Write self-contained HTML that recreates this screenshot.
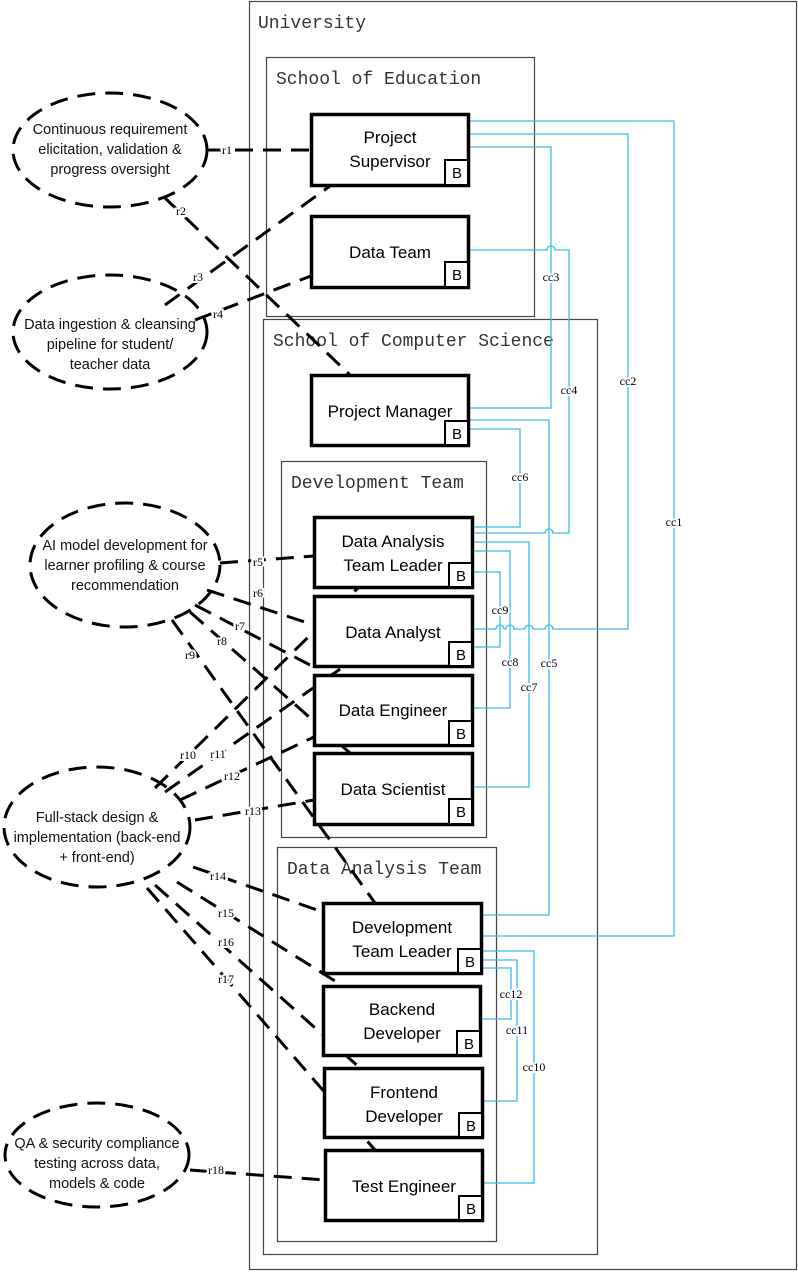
<!DOCTYPE html><html><head><meta charset="utf-8"><style>
html,body{margin:0;padding:0;background:#fff}
svg text{font-family:"Liberation Sans",sans-serif}
.t{font-family:"Liberation Mono",monospace;font-size:18px;fill:#333}
.n{font-size:17px;fill:#000;text-anchor:middle}
.e{font-size:14.5px;fill:#111;text-anchor:middle}
.l{font-family:"Liberation Serif",serif;font-size:12px;fill:#000;text-anchor:middle;dominant-baseline:central;paint-order:stroke;stroke:#fff;stroke-width:4px}
.c{fill:none;stroke:#3cbbea;stroke-width:1.3}
.d{fill:none;stroke:#000;stroke-width:3;stroke-dasharray:18 10}
.b{fill:#fff;stroke:#000;stroke-width:3.5}
.bb{fill:#fff;stroke:#000;stroke-width:2}
.g{fill:none;stroke:#444;stroke-width:1.2}
</style></head><body>
<svg width="798" height="1271" viewBox="0 0 798 1271" xmlns="http://www.w3.org/2000/svg">
<rect x="249.5" y="1.5" width="547" height="1268" class="g"/>
<text x="258" y="28" class="t">University</text>
<rect x="266.5" y="57.5" width="268" height="259" class="g"/>
<text x="276" y="84" class="t">School of Education</text>
<rect x="263.5" y="319.5" width="334" height="935" class="g"/>
<text x="273" y="346" class="t">School of Computer Science</text>
<rect x="281.5" y="461.5" width="205" height="376" class="g"/>
<text x="291" y="488" class="t">Development Team</text>
<rect x="277.5" y="847.5" width="219" height="394" class="g"/>
<text x="287" y="874" class="t">Data Analysis Team</text>

<!-- cyan connectors -->
<g class="c">
<polyline points="469,121 674,121 674,936 482,936"/>
<path d="M469,134 H628 V629 H553 a4,4 0 0 0 -8,0 H533 a4,4 0 0 0 -8,0 H514 a4,4 0 0 0 -8,0 H504 a4,4 0 0 0 -8,0 H473"/>
<polyline points="469,147 551,147 551,408 469,408"/>
<path d="M469,250 H547 a4,4 0 0 1 8,0 H569 V533 H553 a4,4 0 0 0 -8,0 H473"/>
<polyline points="469,420 549,420 549,915 482,915"/>
<polyline points="469,429 520,429 520,527 473,527"/>
<polyline points="473,542 529,542 529,787 473,787"/>
<polyline points="473,551 510,551 510,708 473,708"/>
<polyline points="473,572 500,572 500,647 473,647"/>
<polyline points="482,951 534,951 534,1183 483,1183"/>
<polyline points="482,960 517,960 517,1101 483,1101"/>
<polyline points="482,968 511,968 511,1019 481,1019"/>
</g>

<!-- ellipses -->
<ellipse cx="110" cy="150" rx="97" ry="57" class="d" fill="#fff"/>
<ellipse cx="110" cy="332" rx="97" ry="57" class="d" fill="#fff"/>
<ellipse cx="125" cy="565" rx="95" ry="62" class="d" fill="#fff"/>
<ellipse cx="97" cy="827" rx="93" ry="60" class="d" fill="#fff"/>
<ellipse cx="97" cy="1155" rx="92" ry="52" class="d" fill="#fff"/>
<text class="e"><tspan x="110" y="134">Continuous requirement</tspan><tspan x="110" y="154">elicitation, validation &amp;</tspan><tspan x="110" y="174">progress oversight</tspan></text>
<text class="e"><tspan x="110" y="329">Data ingestion &amp; cleansing</tspan><tspan x="110" y="349">pipeline for student/</tspan><tspan x="110" y="369">teacher data</tspan></text>
<text class="e"><tspan x="125" y="550">AI model development for</tspan><tspan x="125" y="570">learner profiling &amp; course</tspan><tspan x="125" y="590">recommendation</tspan></text>
<text class="e"><tspan x="97" y="822">Full-stack design &amp;</tspan><tspan x="97" y="842">implementation (back-end</tspan><tspan x="97" y="862">+ front-end)</tspan></text>
<text class="e"><tspan x="97" y="1148">QA &amp; security compliance</tspan><tspan x="97" y="1168">testing across data,</tspan><tspan x="97" y="1188">models &amp; code</tspan></text>

<!-- dashed relations -->
<g class="d">
<line x1="207" y1="150" x2="311" y2="150"/>
<line x1="165" y1="198" x2="350" y2="375"/>
<line x1="165" y1="305" x2="330" y2="186"/>
<line x1="195" y1="320" x2="311" y2="276"/>
<line x1="220" y1="563" x2="314" y2="556"/>
<line x1="207" y1="590" x2="314" y2="625"/>
<line x1="195" y1="605" x2="310" y2="665"/>
<line x1="190" y1="612" x2="350" y2="753"/>
<line x1="172" y1="620" x2="375" y2="903"/>
<line x1="155" y1="788" x2="358" y2="588"/>
<line x1="165" y1="792" x2="343" y2="667"/>
<line x1="180" y1="800" x2="314" y2="737"/>
<line x1="195" y1="820" x2="314" y2="800"/>
<line x1="193" y1="867" x2="323" y2="912"/>
<line x1="177" y1="882" x2="343" y2="986"/>
<line x1="155" y1="885" x2="360" y2="1068"/>
<line x1="147" y1="888" x2="375" y2="1150"/>
<line x1="190" y1="1170" x2="325" y2="1180"/>
</g>

<!-- nodes -->
<g>
<rect x="311.5" y="114.5" width="157" height="71" class="b"/><rect x="445" y="160" width="23" height="25" class="bb"/>
<rect x="311.5" y="216.5" width="157" height="71" class="b"/><rect x="445" y="262" width="23" height="25" class="bb"/>
<rect x="311.5" y="375.5" width="157" height="70" class="b"/><rect x="445" y="421" width="23" height="24" class="bb"/>
<rect x="314.5" y="517.5" width="158" height="70" class="b"/><rect x="449" y="563" width="23" height="24" class="bb"/>
<rect x="314.5" y="596.5" width="158" height="70" class="b"/><rect x="449" y="642" width="23" height="24" class="bb"/>
<rect x="314.5" y="675.5" width="158" height="70" class="b"/><rect x="449" y="721" width="23" height="24" class="bb"/>
<rect x="314.5" y="753.5" width="158" height="71" class="b"/><rect x="449" y="799" width="23" height="25" class="bb"/>
<rect x="323.5" y="903.5" width="158" height="70" class="b"/><rect x="458" y="949" width="23" height="24" class="bb"/>
<rect x="323.5" y="986.5" width="157" height="69" class="b"/><rect x="457" y="1031" width="23" height="24" class="bb"/>
<rect x="324.5" y="1068.5" width="158" height="69" class="b"/><rect x="459" y="1113" width="23" height="24" class="bb"/>
<rect x="325.5" y="1150.5" width="157" height="70" class="b"/><rect x="459" y="1196" width="23" height="24" class="bb"/>
</g>
<g style="font-family:'Liberation Serif',serif;font-size:15px" text-anchor="middle">
<text x="457" y="178">B</text><text x="457" y="280">B</text><text x="457" y="439">B</text>
<text x="461" y="581">B</text><text x="461" y="660">B</text><text x="461" y="739">B</text><text x="461" y="817">B</text>
<text x="470" y="967">B</text><text x="469" y="1049">B</text><text x="471" y="1131">B</text><text x="471" y="1214">B</text>
</g>
<text class="n"><tspan x="390" y="143">Project</tspan><tspan x="390" y="167">Supervisor</tspan></text>
<text class="n" x="390" y="258">Data Team</text>
<text class="n" x="390" y="417">Project Manager</text>
<text class="n"><tspan x="393" y="547">Data Analysis</tspan><tspan x="393" y="571">Team Leader</tspan></text>
<text class="n" x="393" y="638">Data Analyst</text>
<text class="n" x="393" y="716">Data Engineer</text>
<text class="n" x="393" y="795">Data Scientist</text>
<text class="n"><tspan x="402" y="933">Development</tspan><tspan x="402" y="957">Team Leader</tspan></text>
<text class="n"><tspan x="402" y="1015">Backend</tspan><tspan x="402" y="1039">Developer</tspan></text>
<text class="n"><tspan x="404" y="1098">Frontend</tspan><tspan x="404" y="1122">Developer</tspan></text>
<text class="n" x="404" y="1192">Test Engineer</text>

<!-- labels -->
<g>
<text class="l" x="227" y="150">r1</text><text class="l" x="181" y="211">r2</text><text class="l" x="198" y="277">r3</text><text class="l" x="218" y="314">r4</text>
<text class="l" x="258" y="562">r5</text><text class="l" x="258" y="593">r6</text><text class="l" x="240" y="626">r7</text><text class="l" x="222" y="641">r8</text><text class="l" x="190" y="655">r9</text>
<text class="l" x="188" y="755">r10</text><text class="l" x="218" y="754">r11</text><text class="l" x="232" y="776">r12</text><text class="l" x="253" y="811">r13</text>
<text class="l" x="218" y="876">r14</text><text class="l" x="226" y="913">r15</text><text class="l" x="226" y="942">r16</text><text class="l" x="226" y="979">r17</text><text class="l" x="216" y="1170">r18</text>
<text class="l" x="674" y="522">cc1</text><text class="l" x="628" y="381">cc2</text><text class="l" x="551" y="277">cc3</text><text class="l" x="569" y="390">cc4</text>
<text class="l" x="549" y="663">cc5</text><text class="l" x="520" y="477">cc6</text><text class="l" x="529" y="687">cc7</text><text class="l" x="510" y="662">cc8</text><text class="l" x="500" y="610">cc9</text>
<text class="l" x="534" y="1067">cc10</text><text class="l" x="517" y="1030">cc11</text><text class="l" x="511" y="994">cc12</text>
</g>
</svg>
</body></html>
